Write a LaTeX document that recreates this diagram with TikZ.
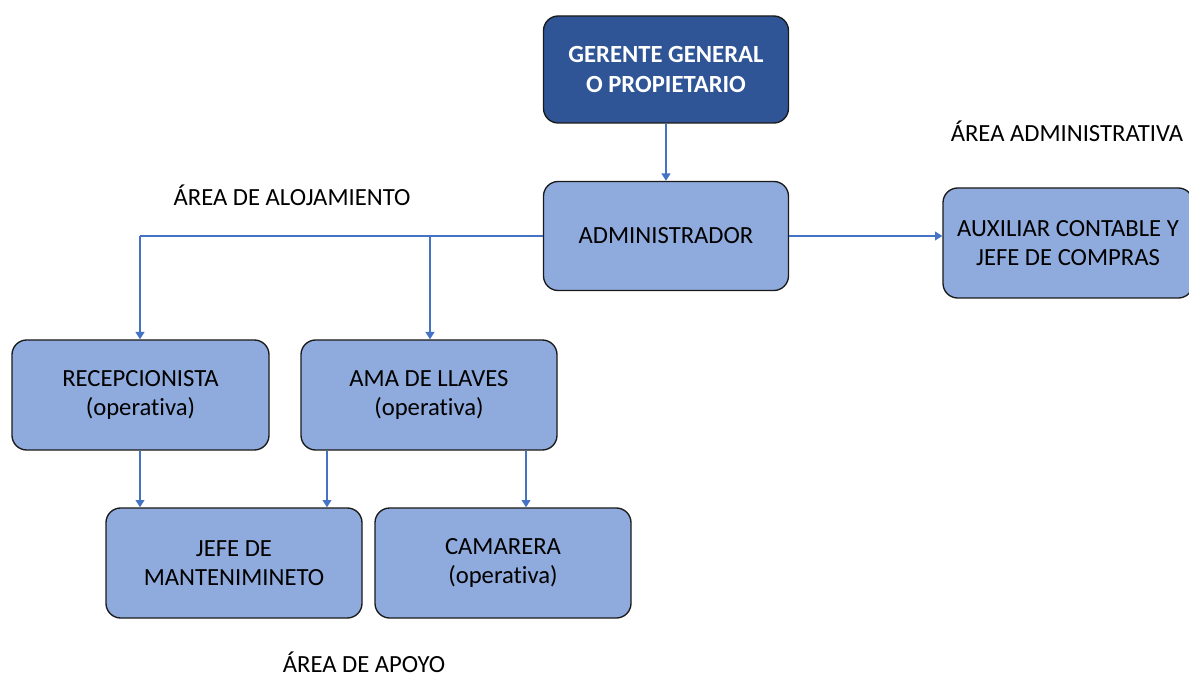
\documentclass[tikz,border=0pt]{standalone}
\usepackage{fontspec}
\setmainfont[Ligatures=NoCommon]{Carlito}
\usetikzlibrary{arrows.meta}
\definecolor{boxfill}{HTML}{8FAADC}
\definecolor{topfill}{HTML}{2F5597}
\definecolor{linecol}{HTML}{4472C4}
\definecolor{edge}{HTML}{1A1A1A}
\begin{document}
\begin{tikzpicture}[x=0.75pt,y=-0.75pt,
  box/.style={draw=edge, line width=1pt, fill=boxfill, rounded corners=11pt,
    minimum height=82.5pt, align=center, inner sep=2pt,
    font=\fontsize{18.5}{22}\selectfont},
  topbox/.style={box, fill=topfill, text=white,
    font=\fontsize{18.5}{22}\selectfont\bfseries},
  lbl/.style={font=\fontsize{18.5}{22}\selectfont, inner sep=0pt},
  conn/.style={draw=linecol, line width=1.6pt},
  arr/.style={conn, -{Triangle[width=6.5pt,length=5.5pt]}}]
\clip (0,0) rectangle (1189,677);
\fill[white] (0,0) rectangle (1189,677);
\node[topbox, minimum width=183.75pt, minimum height=80.25pt] (ger) at (666,69.5) {GERENTE GENERAL\\O PROPIETARIO};
\node[box, minimum width=183.75pt, minimum height=81.75pt] (adm) at (666,236) {ADMINISTRADOR};
\node[box, minimum width=187.5pt] (aux) at (1068,243) {AUXILIAR CONTABLE Y\\JEFE DE COMPRAS};
\node[box, minimum width=192.75pt] (rec) at (140.5,395) {RECEPCIONISTA\\(operativa)};
\node[box, minimum width=192pt] (ama) at (429,395) {AMA DE LLAVES\\(operativa)};
\node[box, minimum width=192pt] (jef) at (234,563) {JEFE DE\\MANTENIMINETO};
\node[box, minimum width=192pt] (cam) at (503,563) {CAMARERA\\(operativa)};
\node[lbl] (la) at (1067,131) {ÁREA ADMINISTRATIVA};
\node[lbl] (lb) at (292,195) {ÁREA DE ALOJAMIENTO};
\node[lbl] (lc) at (364,662) {ÁREA DE APOYO};
% connectors
\draw[arr] (ger.south) -- (adm.north);
\draw[arr] (adm.east) -- (aux.west |- adm.east);
\coordinate (c1) at (140,236);
\coordinate (c2) at (430,236);
\draw[conn] (adm.west) -- (c1);
\draw[arr] (c1) -- (c1 |- rec.north);
\draw[arr] (c2) -- (c2 |- ama.north);
\draw[arr] (rec.south -| c1) -- (c1 |- jef.north);
\coordinate (j1) at (327,508);
\coordinate (j2) at (526,508);
\draw[arr] (ama.south -| j1) -- (j1 |- jef.north);
\draw[arr] (ama.south -| j2) -- (j2 |- cam.north);
\end{tikzpicture}
\end{document}
